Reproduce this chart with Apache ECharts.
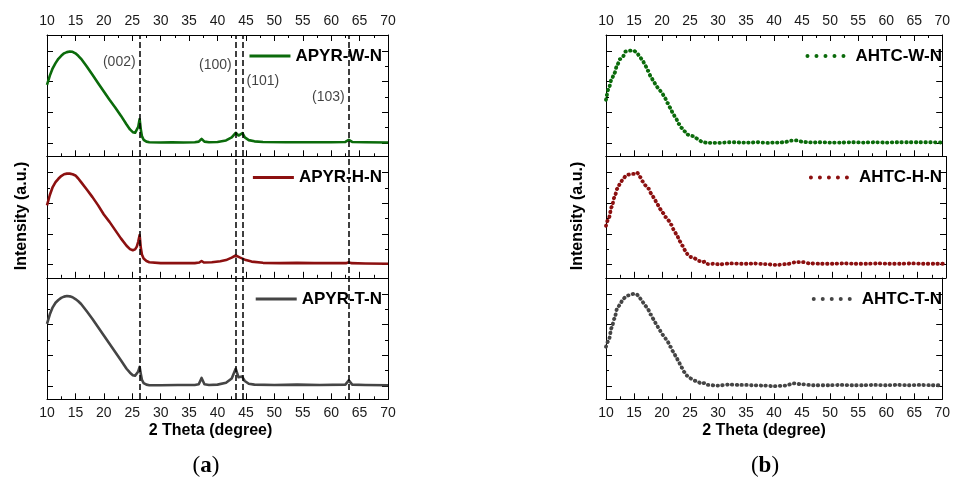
<!DOCTYPE html>
<html>
<head>
<meta charset="utf-8">
<script src="https://cdn.jsdelivr.net/npm/echarts@6/dist/echarts.min.js"></script>
<style>
  html, body { margin: 0; padding: 0; background: #fff; }
  #chart { width: 953px; height: 477px; }
</style>
</head>
<body>
<div id="chart"></div>
<script>
// XRD patterns, intensity in arbitrary units (0 = flat baseline)
var apyrW = [[10,1.90],[10.5,2.20],[11,2.44],[11.5,2.61],[12,2.75],[12.5,2.85],[13,2.93],[13.5,2.97],[14,2.99],[14.5,2.98],[15,2.93],[15.5,2.85],[16,2.75],[17,2.50],[18,2.23],[19,1.95],[20,1.68],[21,1.41],[22,1.16],[23,0.89],[24,0.60],[24.6,0.44],[25.1,0.35],[25.5,0.33],[25.8,0.38],[26.05,0.52],[26.3,0.78],[26.5,0.45],[26.7,0.22],[27,0.10],[27.5,0.04],[28,0.02],[30,0.01],[32,0.02],[34,0.01],[36,0.02],[36.7,0.04],[37.2,0.13],[37.7,0.04],[38.5,0.02],[40,0.03],[41.5,0.08],[42.5,0.18],[43.2,0.33],[43.7,0.24],[44.0,0.28],[44.4,0.32],[44.8,0.18],[45.5,0.09],[46.5,0.05],[48,0.03],[52,0.02],[56,0.02],[60,0.02],[62.5,0.03],[63.1,0.10],[63.7,0.03],[66,0.02],[70,0.01]];
var apyrH = [[10,1.93],[10.5,2.27],[11,2.53],[11.5,2.69],[12,2.80],[12.5,2.89],[13,2.95],[13.5,2.97],[14,2.97],[14.5,2.95],[15,2.91],[15.5,2.81],[16,2.69],[17,2.45],[18,2.20],[19,1.93],[20,1.63],[21,1.39],[22,1.12],[23,0.85],[24,0.61],[24.6,0.50],[25.1,0.46],[25.5,0.49],[25.8,0.58],[26.05,0.74],[26.3,0.96],[26.5,0.55],[26.7,0.32],[27,0.19],[27.5,0.11],[28,0.07],[30,0.04],[33,0.04],[36,0.04],[36.8,0.06],[37.2,0.11],[37.6,0.06],[39,0.07],[40.5,0.10],[41.5,0.14],[42.5,0.22],[43.2,0.29],[44,0.22],[45,0.14],[46,0.09],[48,0.05],[51,0.04],[54,0.05],[57,0.04],[60,0.04],[62.7,0.04],[63.1,0.07],[63.5,0.04],[66,0.03],[70,0.02]];
var apyrT = [[10,2.03],[10.5,2.34],[11,2.57],[11.5,2.72],[12,2.81],[12.5,2.88],[13,2.92],[13.5,2.94],[14,2.93],[14.5,2.90],[15,2.84],[15.5,2.77],[16,2.68],[17,2.44],[18,2.19],[19,1.92],[20,1.65],[21,1.38],[22,1.11],[23,0.84],[24,0.56],[24.6,0.43],[25.1,0.35],[25.5,0.33],[25.8,0.37],[26.05,0.47],[26.3,0.62],[26.5,0.40],[26.7,0.20],[27,0.09],[27.5,0.04],[28,0.02],[30,0.02],[33,0.03],[36,0.03],[36.7,0.05],[37.2,0.26],[37.7,0.05],[38.5,0.03],[40,0.04],[41.5,0.10],[42.5,0.24],[43.2,0.56],[43.7,0.28],[44.0,0.28],[44.3,0.31],[44.8,0.16],[45.5,0.07],[46.5,0.04],[50,0.03],[54,0.04],[58,0.03],[62.5,0.04],[63.1,0.18],[63.7,0.04],[66,0.03],[70,0.02]];

var ahtcW = [[10,1.41],[10.5,1.79],[11,2.08],[11.5,2.28],[12,2.55],[12.5,2.74],[13,2.82],[13.5,2.99],[14,3.01],[14.5,3.02],[15,3.01],[15.5,2.96],[16,2.82],[16.5,2.71],[17,2.53],[17.5,2.36],[18,2.17],[18.5,2.01],[19,1.85],[19.5,1.74],[20,1.63],[20.5,1.47],[21,1.30],[21.5,1.14],[22,0.94],[22.5,0.79],[23,0.62],[23.5,0.49],[24,0.38],[24.5,0.27],[25,0.25],[25.5,0.22],[26,0.16],[26.5,0.11],[27,0.05],[28,0.00],[29,0.00],[30,0.00],[31,0.01],[32,0.02],[33,0.02],[34,0.01],[35,0.01],[36,0.01],[37,0.02],[38,0.01],[39,0.00],[40,0.01],[41,0.01],[42,0.03],[43,0.07],[44,0.08],[45,0.04],[46,0.02],[47,0.01],[48,0.02],[50,0.01],[52,0.01],[54,0.02],[56,0.01],[58,0.02],[60,0.01],[62,0.02],[64,0.02],[66,0.02],[68,0.02],[70,0.01]];
var ahtcH = [[10,1.26],[10.5,1.52],[11,1.88],[11.5,2.20],[12,2.48],[12.5,2.64],[13,2.80],[13.5,2.89],[14,2.94],[14.5,2.96],[15,2.96],[15.5,3.00],[16,2.86],[16.5,2.71],[17,2.58],[17.5,2.48],[18,2.31],[18.5,2.17],[19,1.99],[19.5,1.82],[20,1.69],[20.5,1.55],[21,1.44],[21.5,1.30],[22,1.12],[22.5,0.96],[23,0.76],[23.5,0.61],[24,0.45],[24.5,0.30],[25,0.24],[25.5,0.20],[26,0.17],[26.5,0.11],[27,0.07],[27.5,0.09],[28,0.01],[29,0.02],[30,0.00],[32,0.03],[34,0.02],[35,0.02],[36,0.03],[38,0.01],[40,-0.02],[42,0.01],[43.5,0.07],[44.5,0.08],[46,0.03],[48,0.02],[50,0.02],[52,0.03],[54,0.02],[56,0.02],[58,0.03],[60,0.02],[62,0.02],[64,0.03],[66,0.02],[68,0.02],[70,0.02]];
var ahtcT = [[10,1.28],[10.5,1.50],[11,1.90],[11.5,2.20],[12,2.53],[12.5,2.66],[13,2.83],[13.5,2.91],[14,2.96],[14.5,3.00],[15,3.01],[15.5,2.99],[16,2.88],[16.5,2.75],[17,2.62],[17.5,2.50],[18,2.33],[18.5,2.18],[19,2.01],[19.5,1.85],[20,1.69],[20.5,1.57],[21,1.44],[21.5,1.28],[22,1.12],[22.5,0.96],[23,0.77],[23.5,0.60],[24,0.45],[24.5,0.33],[25,0.25],[25.5,0.20],[26,0.16],[26.5,0.12],[27,0.07],[27.5,0.09],[28,0.03],[30,0.01],[32,0.04],[34,0.03],[35,0.03],[36,0.02],[38,0.01],[40,-0.01],[42,0.01],[43.5,0.08],[45,0.05],[47,0.02],[50,0.02],[52,0.03],[54,0.02],[56,0.02],[58,0.03],[60,0.02],[62,0.03],[64,0.02],[66,0.03],[68,0.02],[70,0.02]];

// reflection lines of panel (a)
var peakPos = [26.3, 43.2, 44.4, 63.1];
var peakNames = ['(002)', '(100)', '(101)', '(103)'];

var FONT = 'Liberation Sans';
var Y_MIN = -0.44, Y_MAX = 3.53;
var majorY = [0, 1, 2, 3];
var minorY = [0.5, 1.5, 2.5];

var panelLeft = [47, 606];
var panelWidth = [341, 340];
var rowTop = [35, 156.5, 278];
var rowH = 121.3;

var curves = [
  { name: 'APYR-W-N', data: apyrW, color: '#0b6b0b', panel: 0, row: 0 },
  { name: 'APYR-H-N', data: apyrH, color: '#8c1010', panel: 0, row: 1 },
  { name: 'APYR-T-N', data: apyrT, color: '#454545', panel: 0, row: 2 },
  { name: 'AHTC-W-N', data: ahtcW, color: '#0b6b0b', panel: 1, row: 0 },
  { name: 'AHTC-H-N', data: ahtcH, color: '#8c1010', panel: 1, row: 1 },
  { name: 'AHTC-T-N', data: ahtcT, color: '#454545', panel: 1, row: 2 }
];

var black = { color: '#000', width: 1 };
var grids = [], xAxes = [], yAxes = [], series = [], legends = [];

function yAx(g, pos, vals, len, showLine) {
  return {
    gridIndex: g, type: 'value', position: pos, min: Y_MIN, max: Y_MAX,
    axisLine: { show: showLine, onZero: false, lineStyle: black },
    axisTick: { show: true, inside: true, length: len, customValues: vals, lineStyle: black },
    axisLabel: { show: false }, splitLine: { show: false }
  };
}

curves.forEach(function (c, g) {
  grids.push({ left: panelLeft[c.panel], top: rowTop[c.row], width: panelWidth[c.panel], height: rowH });
  var isTop = c.row === 0, isBottom = c.row === 2;
  var lab = { fontFamily: FONT, fontSize: 14, color: '#1a1a1a' };
  xAxes.push({
    gridIndex: g, type: 'value', position: 'bottom', min: 10, max: 70, interval: 5,
    axisLine: { onZero: false, lineStyle: black },
    axisTick: { inside: true, length: 6, lineStyle: black },
    minorTick: { show: true, splitNumber: 2, length: 3, lineStyle: black },
    axisLabel: Object.assign({ show: isBottom, margin: 7 }, lab),
    splitLine: { show: false }
  });
  xAxes.push({
    gridIndex: g, type: 'value', position: 'top', min: 10, max: 70, interval: 5,
    axisLine: { onZero: false, lineStyle: black },
    axisTick: { show: isTop, inside: true, length: 6, lineStyle: black },
    minorTick: { show: isTop, splitNumber: 2, length: 3, lineStyle: black },
    axisLabel: Object.assign({ show: isTop, margin: 7 }, lab),
    splitLine: { show: false }
  });
  yAxes.push(yAx(g, 'left', majorY, 6, true));
  yAxes.push(yAx(g, 'right', majorY, 6, true));
  yAxes.push(yAx(g, 'left', minorY, 3, false));
  yAxes.push(yAx(g, 'right', minorY, 3, false));

  var dotted = c.panel === 1;
  series.push({
    name: c.name, type: 'line', xAxisIndex: 2 * g, yAxisIndex: 4 * g,
    data: c.data, color: c.color, showSymbol: false,
    smooth: dotted ? 0.3 : false, smoothMonotone: 'x',
    lineStyle: dotted ? { width: 3.8, type: [0.5, 4.3], cap: 'round', color: c.color }
                      : { width: 2.6, color: c.color, join: 'round' }
  });
  var legTop = rowTop[c.row] + 12.5;
  legends.push({
    data: [c.name], selectedMode: false, padding: 0, top: legTop,
    right: dotted ? 11 : 571,
    icon: dotted ? 'path://M2,0A2,2,0,1,1,2,4A2,2,0,1,1,2,0ZM11,0A2,2,0,1,1,11,4A2,2,0,1,1,11,0ZM20,0A2,2,0,1,1,20,4A2,2,0,1,1,20,0ZM29,0A2,2,0,1,1,29,4A2,2,0,1,1,29,0ZM38,0A2,2,0,1,1,38,4A2,2,0,1,1,38,0Z' : 'rect',
    itemWidth: dotted ? 40 : 41, itemHeight: dotted ? 4 : 3,
    itemStyle: { borderWidth: 0 },
    textStyle: { fontFamily: FONT, fontSize: 17, fontWeight: 'bold', color: '#000', padding: dotted ? [0, 0, 0, 5] : 0 }
  });
});

// overlay spanning panel (a) for the dashed reflection lines
var og = grids.length;
grids.push({ left: panelLeft[0], top: rowTop[0], width: panelWidth[0], height: rowH * 3 });
xAxes.push({ gridIndex: og, type: 'value', min: 10, max: 70, show: false });
yAxes.push({ gridIndex: og, type: 'value', min: 0, max: 1, show: false });
var labelY = [0.926, 0.918, 0.874, 0.830];
var labelSide = ['left', 'left', 'right', 'left'];
series.push({
  type: 'scatter', xAxisIndex: xAxes.length - 1, yAxisIndex: yAxes.length - 1, z: 10,
  symbolSize: 0, silent: true,
  data: peakPos.map(function (x, i) {
    return { value: [x, labelY[i]], label: { position: labelSide[i] } };
  }),
  label: {
    show: true, distance: 4, fontFamily: FONT, fontSize: 14, color: '#111',
    formatter: function (p) { return peakNames[p.dataIndex]; }
  },
  markLine: {
    symbol: ['none', 'none'], silent: true, label: { show: false },
    lineStyle: { color: '#000', type: [6, 3], width: 1.5 },
    data: peakPos.map(function (x) { return { xAxis: x }; })
  }
});

function txt(t, x, y, size, rot) {
  return {
    type: 'text', x: x, y: y, rotation: rot || 0,
    style: { text: t, fontFamily: FONT, fontSize: size, fontWeight: 'bold', fill: '#000', align: 'center', verticalAlign: 'middle' }
  };
}
function panelTag(letter, x) {
  return {
    type: 'text', x: x, y: 466,
    style: {
      text: '({b|' + letter + '})', fontFamily: 'Liberation Serif', fontSize: 23, fill: '#000',
      align: 'center', verticalAlign: 'middle',
      rich: { b: { fontFamily: 'Liberation Serif', fontSize: 23, fontWeight: 'bold' } }
    }
  };
}

var chart = echarts.init(document.getElementById('chart'));
chart.setOption({
  animation: false,
  backgroundColor: '#fff',
  grid: grids,
  xAxis: xAxes,
  yAxis: yAxes,
  legend: legends,
  series: series,
  graphic: [
    txt('2 Theta (degree)', 210.5, 431, 16),
    txt('2 Theta (degree)', 764, 431, 16),
    txt('Intensity (a.u.)', 21.5, 216, 16, Math.PI / 2),
    txt('Intensity (a.u.)', 578, 216, 16, Math.PI / 2),
    panelTag('a', 206),
    panelTag('b', 765)
  ]
});
</script>
</body>
</html>
